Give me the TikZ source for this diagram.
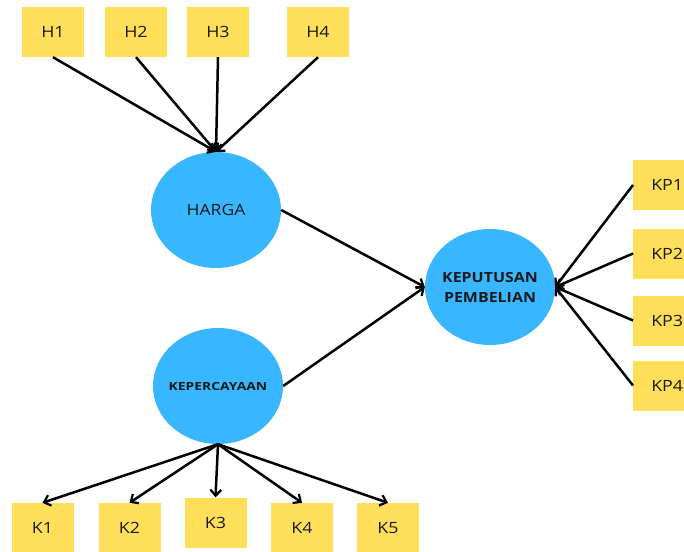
\documentclass[tikz,border=0pt]{standalone}
\usepackage{fontspec}
\usepackage{graphicx}
\setmainfont{Open Sans}
\usetikzlibrary{arrows.meta,shapes.geometric}
\definecolor{boxy}{HTML}{FFDE59}
\definecolor{ellb}{HTML}{38B6FF}
\definecolor{txt}{HTML}{1A1A1A}
\newcommand{\wide}[2]{\scalebox{#1}[1]{#2}}
\tikzset{
  ind/.style={fill=boxy, minimum width=62pt, minimum height=50pt, inner sep=0pt, text=txt, font=\fontsize{15.5}{18}\selectfont},
  lat/.style={ellipse, fill=ellb, minimum width=130pt, minimum height=116pt, inner sep=0pt},
  lattext/.style={text=txt, align=center, inner sep=0pt},
  conn/.style={line width=2.5pt, -{Straight Barb[length=6pt,width=11pt,line width=2.2pt]}}
}
\begin{document}
\begin{tikzpicture}[x=1pt,y=-1pt]
\useasboundingbox (0,0) rectangle (684,551);
% indicators H
\node[ind] (h1) at (53,32) {\wide{1.15}{H1}};
\node[ind] (h2) at (136,32) {\wide{1.15}{H2}};
\node[ind] (h3) at (218,32) {\wide{1.15}{H3}};
\node[ind] (h4) at (318,32) {\wide{1.15}{H4}};
% KP
\node[ind, anchor=west] (kp1) at (633,185) {\hspace*{6pt}\wide{1.15}{KP1}};
\node[ind, anchor=west] (kp2) at (633,253.5) {\hspace*{6pt}\wide{1.15}{KP2}};
\node[ind, anchor=west] (kp3) at (633,320.5) {\hspace*{6pt}\wide{1.15}{KP3}};
\node[ind, anchor=west] (kp4) at (633,385.5) {\hspace*{6pt}\wide{1.15}{KP4}};
% K
\node[ind] (k1) at (42.5,528) {\wide{1.15}{K1}};
\node[ind] (k2) at (129.5,528) {\wide{1.15}{K2}};
\node[ind] (k3) at (215.5,522.5) {\wide{1.15}{K3}};
\node[ind] (k4) at (302,528) {\wide{1.15}{K4}};
\node[ind] (k5) at (388,528) {\wide{1.15}{K5}};
% latent
\node[lat] (harga) at (216,210) {};
\node[lattext, font=\fontsize{15.5}{18}\selectfont] (hargat) at (harga.center) {\wide{1.13}{HARGA}};
\node[lat] (kper) at (218,386) {};
\node[lattext, font=\bfseries\fontsize{11.2}{13}\selectfont] (kpert) at (kper.center) {\wide{1.24}{KEPERCAYAAN}};
\node[lat] (kep) at (490,287) {};
\node[lattext, font=\bfseries\fontsize{14}{20}\selectfont] (kept) at (kep.center) {\wide{1.14}{KEPUTUSAN}\\\wide{1.14}{PEMBELIAN}};
% connectors
\foreach \h in {h1,h2,h3,h4} \draw[conn] (\h.south) -- (harga.north);
\foreach \k in {kp1,kp2,kp3,kp4} \draw[conn] (\k.west) -- (kep.east);
\foreach \k in {k1,k2,k3,k4,k5} \draw[conn] (kper.south) -- (\k.north);
\draw[conn] (harga.east) -- (kep.west);
\draw[conn] (kper.east) -- (kep.west);
\end{tikzpicture}
\end{document}
